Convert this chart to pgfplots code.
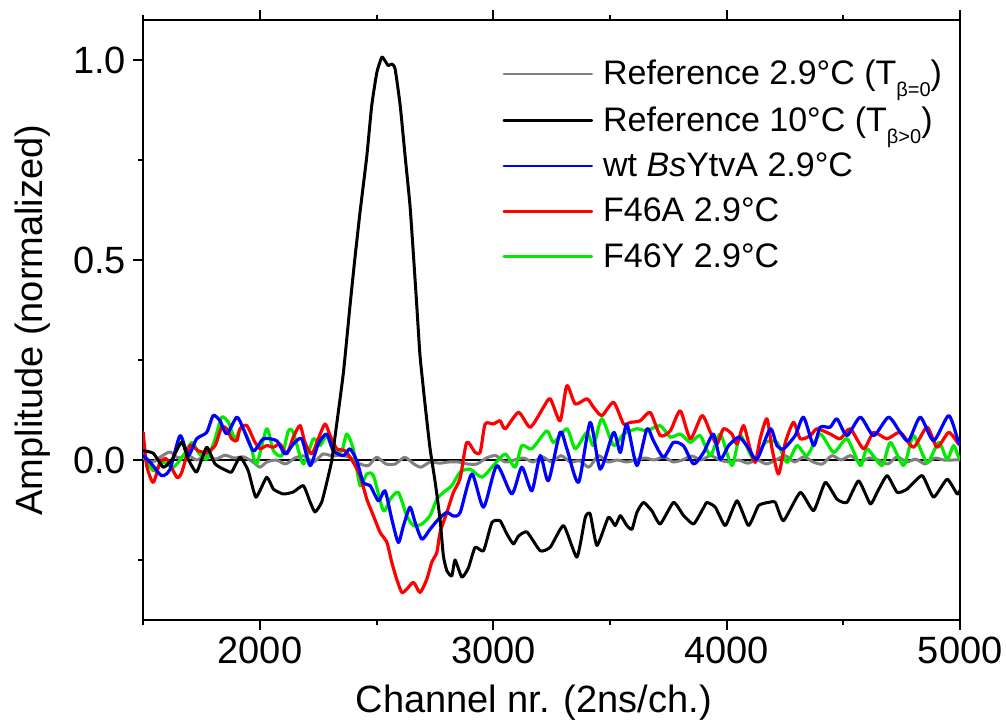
\documentclass[border=0pt]{standalone}
\usepackage{fontspec}
\setmainfont{Liberation Sans}
\newfontfamily\carlito{Carlito}
\usepackage{pgfplots}
\pgfplotsset{compat=1.18}
\definecolor{refgray}{RGB}{128,128,128}
\definecolor{cblue}{RGB}{0,0,255}
\definecolor{cred}{RGB}{255,0,0}
\definecolor{cgreen}{RGB}{0,235,0}
\newcommand{\sub}[1]{\raisebox{-6pt}{\fontsize{10}{10}\selectfont #1}}
\begin{document}
\begin{tikzpicture}
\path[use as bounding box] (-71.6pt,-53.5pt) rectangle (431.4pt,310pt);
\begin{axis}[
 scale only axis, width=408.5pt, height=300pt,
 xmin=1500, xmax=5000, ymin=-0.4, ymax=1.1,
 xtick={2000,3000,4000,5000}, minor xtick={1500,2500,3500,4500},
 ytick={0,0.5,1}, minor ytick={-0.25,0.25,0.75},
 tick align=outside, xtick pos=both, xticklabel pos=lower, ytick pos=left,
 major tick length=5pt, minor tick length=2.5pt,
 every tick/.style={black, line width=1pt},
 axis line style={line width=1pt},
 /pgf/number format/assume math mode=true,
 x tick label style={/pgf/number format/1000 sep={}},
 y tick label style={/pgf/number format/.cd, fixed, fixed zerofill, precision=1},
 tick label style={font=\fontsize{19}{22}\selectfont},
 label style={font=\fontsize{19}{22}\selectfont},
 xlabel={Channel nr. (2ns/ch.)}, ylabel={Amplitude (normalized)},
 xlabel style={at={(axis description cs:0.478,-0.138)}, anchor=center},
 ylabel style={at={(axis description cs:-0.135,0.5)}, anchor=center},
 legend style={draw=none, fill=none, at={(axis description cs:0.432,0.947)}, anchor=north west,
   font=\fontsize{17}{20}\selectfont, row sep=5.3pt},
 legend cell align=left,
 legend image code/.code={\draw[#1, line width=1.3pt] (0pt,0pt) -- (44pt,0pt);},
 every axis plot/.append style={line join=round, line cap=round},
]
\addlegendimage{refgray}
\addlegendentry{\hspace{3pt}Reference 2.9°C (T\sub{β=0})}
\addlegendimage{black}
\addlegendentry{\hspace{3pt}Reference 10°C (T\sub{β>0})}
\addlegendimage{cblue}
\addlegendentry{\hspace{3pt}wt \textit{Bs}YtvA 2.9°C}
\addlegendimage{cred}
\addlegendentry{\hspace{3pt}F46A 2.9°C}
\addlegendimage{cgreen}
\addlegendentry{\hspace{3pt}F46Y 2.9°C}

\addplot[black, line width=0.8pt, forget plot] coordinates {(1500,0) (5000,0)};

\addplot[refgray, line width=1.5pt, smooth, tension=0.4, forget plot] coordinates {
(1500,0.005)(1540,-0.005)(1580,0.01)(1615,0.02)(1650,0.005)(1690,0.012)(1730,0.0)(1770,0.012)(1810,0.002)(1850,0.012)(1890,0.005)(1930,0.008)(1970,-0.005)(2000,-0.018)(2030,-0.005)(2070,0.0)(2110,-0.01)(2150,0.005)(2190,0.01)(2230,-0.005)(2270,0.015)(2310,0.01)(2350,0.012)(2390,0.005)(2430,-0.01)(2465,-0.014)(2500,0.007)(2540,-0.01)(2580,-0.01)(2620,0.007)(2660,-0.01)(2690,-0.018)(2730,-0.005)(2770,-0.008)(2810,-0.005)(2850,-0.005)(2890,-0.01)(2930,-0.01)(2970,0.005)(3010,0.011)(3050,-0.005)(3090,0.0)(3130,0.005)(3170,-0.005)(3210,0.008)(3250,-0.005)(3290,0.011)(3330,-0.005)(3370,-0.002)(3410,-0.018)(3450,0.011)(3490,-0.005)(3530,0.0)(3570,-0.005)(3610,0.0)(3650,0.005)(3690,0.0)(3730,0.008)(3770,-0.005)(3810,0.0)(3850,0.01)(3890,0.0)(3930,0.011)(3970,0.0)(4010,-0.005)(4050,0.0)(4090,-0.008)(4130,0.0)(4170,-0.01)(4210,0.0)(4250,0.011)(4290,-0.005)(4330,0.008)(4370,-0.005)(4410,-0.01)(4450,0.011)(4490,0.0)(4530,0.011)(4570,-0.005)(4610,0.005)(4650,0.0)(4690,-0.01)(4730,0.008)(4770,-0.005)(4810,0.002)(4850,-0.01)(4890,0.005)(4930,0.0)(4970,0.0)(5000,0.0)
};

\addplot[cgreen, line width=1.6pt, smooth, tension=0.4, forget plot] coordinates {
(1500,0.019)(1543,-0.027)(1586,-0.006)(1629,-0.018)(1672,0.011)(1708,0.044)(1736,0.019)(1772,0.002)(1808,0.053)(1836,0.107)(1865,0.094)(1893,0.053)(1922,0.082)(1958,0.04)(1986,-0.01)(2029,0.078)(2058,0.023)(2094,0.011)(2122,0.073)(2143,0.069)(2186,-0.01)(2229,0.053)(2258,0.036)(2286,0.061)(2315,0.023)(2351,0.023)(2372,0.065)(2400,0.028)(2429,-0.064)(2458,-0.035)(2486,-0.039)(2529,-0.127)(2558,-0.098)(2593,-0.081)(2629,-0.139)(2658,-0.164)(2694,-0.16)(2729,-0.139)(2758,-0.098)(2786,-0.081)(2822,-0.064)(2858,-0.03)(2901,-0.023)(2951,-0.043)(3000,-0.014)(3051,0.015)(3093,-0.018)(3122,0.036)(3165,0.028)(3229,0.073)(3258,0.044)(3315,0.078)(3351,0.028)(3401,0.069)(3429,0.036)(3465,0.103)(3515,0.036)(3558,0.065)(3615,0.078)(3658,0.073)(3715,0.086)(3758,0.057)(3801,0.065)(3844,0.044)(3886,0.061)(3930,0.011)(3972,0.065)(4022,-0.014)(4058,0.061)(4115,0.002)(4165,0.044)(4215,0.044)(4258,-0.006)(4301,0.036)(4344,0.011)(4400,0.065)(4458,0.019)(4515,0.053)(4572,-0.014)(4601,0.028)(4665,-0.014)(4701,0.044)(4758,-0.014)(4800,0.061)(4858,-0.006)(4908,0.044)(4944,0.002)(4972,0.036)(4993,0.007)(5000,0.005)
};

\addplot[cred, line width=1.6pt, smooth, tension=0.4, forget plot] coordinates {
(1500,0.069)(1515,-0.014)(1543,-0.056)(1572,-0.006)(1601,0.002)(1644,-0.043)(1665,-0.031)(1701,0.036)(1736,0.023)(1772,0.019)(1808,0.036)(1836,0.082)(1858,0.078)(1879,0.053)(1901,0.048)(1915,0.078)(1944,0.086)(1979,0.044)(2001,0.028)(2029,0.036)(2058,0.032)(2086,0.04)(2115,0.015)(2143,0.057)(2172,0.086)(2193,0.044)(2222,0.015)(2250,0.053)(2279,0.09)(2301,0.061)(2329,0.028)(2365,0.023)(2400,-0.006)(2429,-0.039)(2458,-0.098)(2486,-0.139)(2515,-0.181)(2544,-0.206)(2565,-0.256)(2586,-0.298)(2608,-0.331)(2629,-0.323)(2658,-0.306)(2686,-0.331)(2715,-0.298)(2736,-0.256)(2758,-0.231)(2772,-0.181)(2801,-0.131)(2829,-0.081)(2858,-0.045)(2886,0.044)(2922,0.019)(2944,0.02)(2965,0.09)(3000,0.09)(3029,0.098)(3051,0.078)(3108,0.119)(3158,0.082)(3215,0.132)(3244,0.153)(3286,0.098)(3315,0.186)(3351,0.14)(3401,0.153)(3429,0.132)(3465,0.111)(3515,0.144)(3558,0.09)(3586,0.094)(3629,0.098)(3672,0.119)(3715,0.061)(3758,0.073)(3801,0.123)(3844,0.053)(3894,0.111)(3930,0.069)(3958,0.04)(3986,0.078)(4022,0.065)(4044,0.04)(4072,0.086)(4100,0.028)(4122,-0.006)(4143,0.053)(4172,0.103)(4194,0.028)(4222,-0.035)(4251,0.044)(4286,0.094)(4315,0.053)(4358,0.061)(4386,0.078)(4443,0.065)(4486,0.053)(4529,0.078)(4586,0.028)(4629,0.069)(4686,0.053)(4743,0.069)(4800,0.032)(4858,0.082)(4901,0.032)(4951,0.069)(4993,0.04)(5000,0.04)
};

\addplot[cblue, line width=1.6pt, smooth, tension=0.4, forget plot] coordinates {
(1500,0.011)(1529,-0.005)(1579,-0.039)(1615,-0.023)(1658,0.061)(1693,0.011)(1729,0.053)(1772,0.069)(1800,0.111)(1829,0.098)(1858,0.065)(1901,0.107)(1929,0.078)(1972,0.023)(2015,0.053)(2072,0.048)(2108,0.015)(2143,0.04)(2179,0.053)(2215,-0.014)(2250,0.04)(2286,0.065)(2315,0.023)(2358,0.011)(2386,0.028)(2415,-0.002)(2443,-0.056)(2472,-0.064)(2508,-0.102)(2536,-0.077)(2565,-0.148)(2593,-0.206)(2615,-0.164)(2643,-0.118)(2665,-0.156)(2694,-0.198)(2729,-0.173)(2765,-0.148)(2801,-0.131)(2829,-0.14)(2858,-0.131)(2908,-0.035)(2958,-0.118)(3015,-0.014)(3079,-0.085)(3122,-0.018)(3165,-0.077)(3201,0.011)(3236,-0.052)(3286,0.069)(3315,0.028)(3365,-0.056)(3415,0.094)(3458,-0.023)(3515,0.069)(3544,0.019)(3572,0.09)(3615,-0.014)(3658,0.078)(3686,0.048)(3729,0.007)(3772,0.044)(3815,0.035)(3858,-0.01)(3901,0.019)(3943,0.065)(3972,0.002)(4008,0.036)(4051,0.057)(4086,0.036)(4129,0.002)(4186,0.078)(4215,0.036)(4243,0.028)(4293,0.061)(4329,0.107)(4372,0.036)(4400,0.082)(4443,0.082)(4472,0.103)(4515,0.061)(4572,0.107)(4629,0.061)(4693,0.107)(4743,0.069)(4779,0.048)(4829,0.107)(4886,0.048)(4951,0.111)(4993,0.044)(5000,0.04)
};

\addplot[black, line width=1.5pt, smooth, tension=0.3, forget plot] coordinates {
(1500,0.023)(1543,0.017)(1586,-0.018)(1622,0)(1665,0.045)(1693,0.002)(1729,-0.03)(1772,0.032)(1808,-0.01)(1858,-0.027)(1879,-0.03)(1915,0.007)(1950,-0.027)(1983,-0.093)(2029,-0.043)(2058,-0.073)(2100,-0.085)(2143,-0.08)(2186,-0.064)(2215,-0.105)(2236,-0.13)(2265,-0.105)(2293,-0.04)(2308,0)(2329,0.09)(2358,0.22)(2386,0.386)(2408,0.51)(2429,0.62)(2458,0.76)(2479,0.886)(2501,0.969)(2522,1.007)(2536,0.998)(2550,0.986)(2565,0.99)(2579,0.978)(2601,0.886)(2622,0.76)(2643,0.636)(2658,0.51)(2672,0.386)(2686,0.26)(2708,0.136)(2729,0.028)(2751,-0.056)(2772,-0.15)(2786,-0.24)(2801,-0.277)(2822,-0.29)(2836,-0.25)(2865,-0.293)(2893,-0.27)(2922,-0.218)(2958,-0.227)(2994,-0.156)(3029,-0.152)(3058,-0.185)(3086,-0.21)(3108,-0.19)(3144,-0.18)(3201,-0.227)(3244,-0.218)(3301,-0.164)(3358,-0.243)(3394,-0.143)(3415,-0.135)(3444,-0.214)(3493,-0.143)(3522,-0.164)(3544,-0.139)(3572,-0.164)(3594,-0.173)(3615,-0.131)(3643,-0.106)(3679,-0.127)(3715,-0.16)(3772,-0.106)(3815,-0.139)(3858,-0.16)(3900,-0.12)(3915,-0.106)(3951,-0.118)(3994,-0.164)(4044,-0.102)(4093,-0.164)(4136,-0.114)(4179,-0.106)(4208,-0.106)(4243,-0.152)(4315,-0.081)(4372,-0.127)(4422,-0.056)(4472,-0.098)(4515,-0.106)(4565,-0.052)(4615,-0.11)(4644,-0.081)(4687,-0.039)(4730,-0.081)(4772,-0.073)(4837,-0.039)(4886,-0.093)(4944,-0.048)(4987,-0.085)(5000,-0.075)
};

\node[anchor=base west, font={\carlito\bfseries\fontsize{23.5}{26}\selectfont}] at (axis description cs:-0.1606,0.93) {a};
\end{axis}
\end{tikzpicture}
\end{document}
